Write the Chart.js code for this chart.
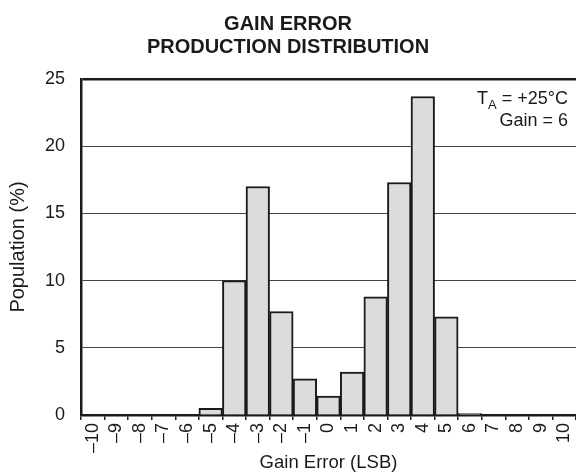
<!DOCTYPE html>
<html>
<head>
<meta charset="utf-8">
<title>Gain Error Production Distribution</title>
<script src="https://cdn.jsdelivr.net/npm/chart.js@4.4.1/dist/chart.umd.min.js"></script>
<style>
    html, body { margin: 0; padding: 0; background: #fff; }
    #wrap { width: 576px; height: 475px; }
</style>
</head>
<body>
<div id="wrap"><canvas id="gainChart"></canvas></div>
<script>
// Chart data
const gainErrorLsb = ['–10', '–9', '–8', '–7', '–6', '–5', '–4', '–3', '–2', '–1', '0',
                      '1', '2', '3', '4', '5', '6', '7', '8', '9', '10'];
const populationPct = [0, 0, 0, 0, 0, 0.5, 10.0, 17.0, 7.7, 2.7, 1.4,
                       3.2, 8.8, 17.3, 23.7, 7.3, 0.1, 0, 0, 0, 0];
const titleLines = ['GAIN ERROR', 'PRODUCTION DISTRIBUTION'];
const noteLines = ['+25°C', 'Gain = 6'];

const FONT = "'Liberation Sans', Arial, Helvetica, sans-serif";
const INK = '#1a1a1a';

// Title and the T_A / Gain note, drawn on the canvas
const textPlugin = {
    id: 'textPlugin',
    afterDraw(chart) {
        const ctx = chart.ctx;
        const area = chart.chartArea;
        ctx.save();
        ctx.fillStyle = INK;
        ctx.textBaseline = 'alphabetic';

        // title, centred on the canvas
        ctx.font = 'bold 20px ' + FONT;
        ctx.textAlign = 'center';
        ctx.fillText(titleLines[0], chart.width / 2, 29.5);
        ctx.fillText(titleLines[1], chart.width / 2, 53);

        // note, right aligned inside the plot
        const right = area.right - 8;
        ctx.font = '18px ' + FONT;
        ctx.textAlign = 'right';
        const rest = ' = ' + noteLines[0];
        const restW = ctx.measureText(rest).width;
        ctx.fillText(rest, right, area.top + 25);
        ctx.font = '13px ' + FONT;
        const subW = ctx.measureText('A').width;
        ctx.fillText('A', right - restW, area.top + 30);
        ctx.font = '18px ' + FONT;
        ctx.fillText('T', right - restW - subW, area.top + 25);
        ctx.fillText(noteLines[1], right, area.top + 47);
        ctx.restore();
    }
};

new Chart(document.getElementById('gainChart'), {
    type: 'bar',
    data: {
        labels: gainErrorLsb,
        datasets: [{
            data: populationPct,
            backgroundColor: '#dcdcdc',
            borderColor: INK,
            borderWidth: 2,
            barPercentage: 1,
            categoryPercentage: 1
        }]
    },
    options: {
        responsive: true,
        maintainAspectRatio: false,
        animation: false,
        layout: { padding: { top: 79, right: 0, bottom: 0, left: 0 } },
        plugins: {
            legend: { display: false },
            tooltip: { enabled: false }
        },
        scales: {
            x: {
                afterFit: (scale) => {
                    scale.height = 60;
                    scale.paddingLeft = 0;
                    scale.paddingRight = 0;
                },
                grid: {
                    drawOnChartArea: false,
                    drawTicks: true,
                    tickLength: 5,
                    offset: true,
                    color: INK,
                    lineWidth: 1.5
                },
                border: { color: INK, width: 2.5 },
                ticks: {
                    autoSkip: false,
                    minRotation: 90,
                    maxRotation: 90,
                    padding: 3,
                    color: INK,
                    font: { family: FONT, size: 18 }
                },
                title: {
                    display: true,
                    text: 'Gain Error (LSB)',
                    color: INK,
                    font: { family: FONT, size: 18.5 },
                    padding: { top: 0, bottom: 1 }
                }
            },
            y: {
                min: 0,
                max: 25,
                afterFit: (scale) => { scale.width = 81; },
                grid: {
                    drawTicks: false,
                    color: (c) => c.tick && c.tick.value === 25 ? INK : '#444',
                    lineWidth: (c) => c.tick && c.tick.value === 25 ? 2.5 : 1
                },
                border: { color: INK, width: 2.5 },
                ticks: {
                    stepSize: 5,
                    padding: 16,
                    color: INK,
                    font: { family: FONT, size: 18 }
                },
                title: {
                    display: true,
                    text: 'Population (%)',
                    color: INK,
                    font: { family: FONT, size: 20 },
                    padding: { top: 6, bottom: 0 }
                }
            }
        }
    },
    plugins: [textPlugin]
});
</script>
</body>
</html>
